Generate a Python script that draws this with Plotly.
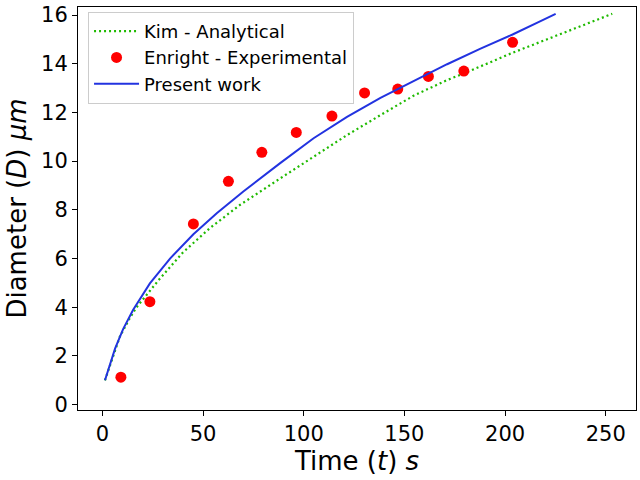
import plotly.graph_objects as go

# Kim - Analytical (dotted green)
kim_t = [1.3, 8.7, 13.6, 17.0, 27.8, 40.0, 53.4, 68.3, 88.3, 104.9, 121.5, 138.1, 154.6, 171.2, 179.5, 203.7, 232.4, 253.2]
kim_d = [1.0, 2.8, 3.55, 4.0, 5.1, 6.25, 7.25, 8.2, 9.29, 10.18, 11.07, 11.89, 12.69, 13.33, 13.6, 14.45, 15.38, 16.05]

# Enright - Experimental (red dots)
enr_t = [9.2, 23.6, 45.2, 62.6, 79.2, 96.3, 114.0, 130.2, 146.7, 161.9, 179.5, 203.7]
enr_d = [1.13, 4.23, 7.42, 9.17, 10.36, 11.18, 11.85, 12.8, 12.96, 13.48, 13.7, 14.88]

# Present work (blue)
pw_t = [1.3, 6.3, 10.3, 15.3, 23.6, 33.6, 45.2, 56.8, 70.0, 88.3, 104.9, 121.5, 138.1, 154.6, 171.2, 187.8, 203.7, 217.6, 225.1]
pw_d = [1.0, 2.3, 3.1, 3.9, 4.98, 6.0, 7.0, 7.86, 8.75, 9.92, 10.94, 11.82, 12.6, 13.3, 13.98, 14.62, 15.2, 15.75, 16.05]

fig = go.Figure()
fig.add_trace(go.Scatter(x=kim_t, y=kim_d, mode="lines", name="Kim - Analytical",
                         line=dict(color="#1fba00", width=2.2, dash="2px,3px")))
fig.add_trace(go.Scatter(x=enr_t, y=enr_d, mode="markers", name="Enright - Experimental",
                         marker=dict(color="#ff0000", size=11)))
fig.add_trace(go.Scatter(x=pw_t, y=pw_d, mode="lines", name="Present work",
                         line=dict(color="#2233e0", width=2)))

axis_style = dict(showline=True, mirror=True, linecolor="black", linewidth=1,
                  ticks="outside", ticklen=5, tickcolor="black", showgrid=False,
                  zeroline=False, tickfont=dict(size=21, color="black"))

fig.update_layout(
    width=640, height=480,
    margin=dict(l=78, r=4, t=7, b=70),
    plot_bgcolor="white", paper_bgcolor="white",
    font=dict(family="DejaVu Sans", color="black"),
    xaxis=dict(range=[-12.1, 265], tickvals=[0, 50, 100, 150, 200, 250],
               title=dict(text="Time (<i>t</i>) <i>s</i>", font=dict(size=26), standoff=4),
               **axis_style),
    yaxis=dict(range=[-0.22, 16.33], tickvals=[0, 2, 4, 6, 8, 10, 12, 14, 16],
               title=dict(text="Diameter (<i>D</i>) <i>μm</i>", font=dict(size=26), standoff=6),
               **axis_style),
    legend=dict(x=0.018, y=0.988, xanchor="left", yanchor="top",
                bgcolor="rgba(255,255,255,0.8)", bordercolor="#cccccc", borderwidth=1,
                font=dict(size=18), itemwidth=45),
    showlegend=True,
)

# drop the default 8px body margin of the page, hide the modebar
fig.write_html("out.html", config={"displayModeBar": False},
               post_script="document.body.style.margin='0';")
